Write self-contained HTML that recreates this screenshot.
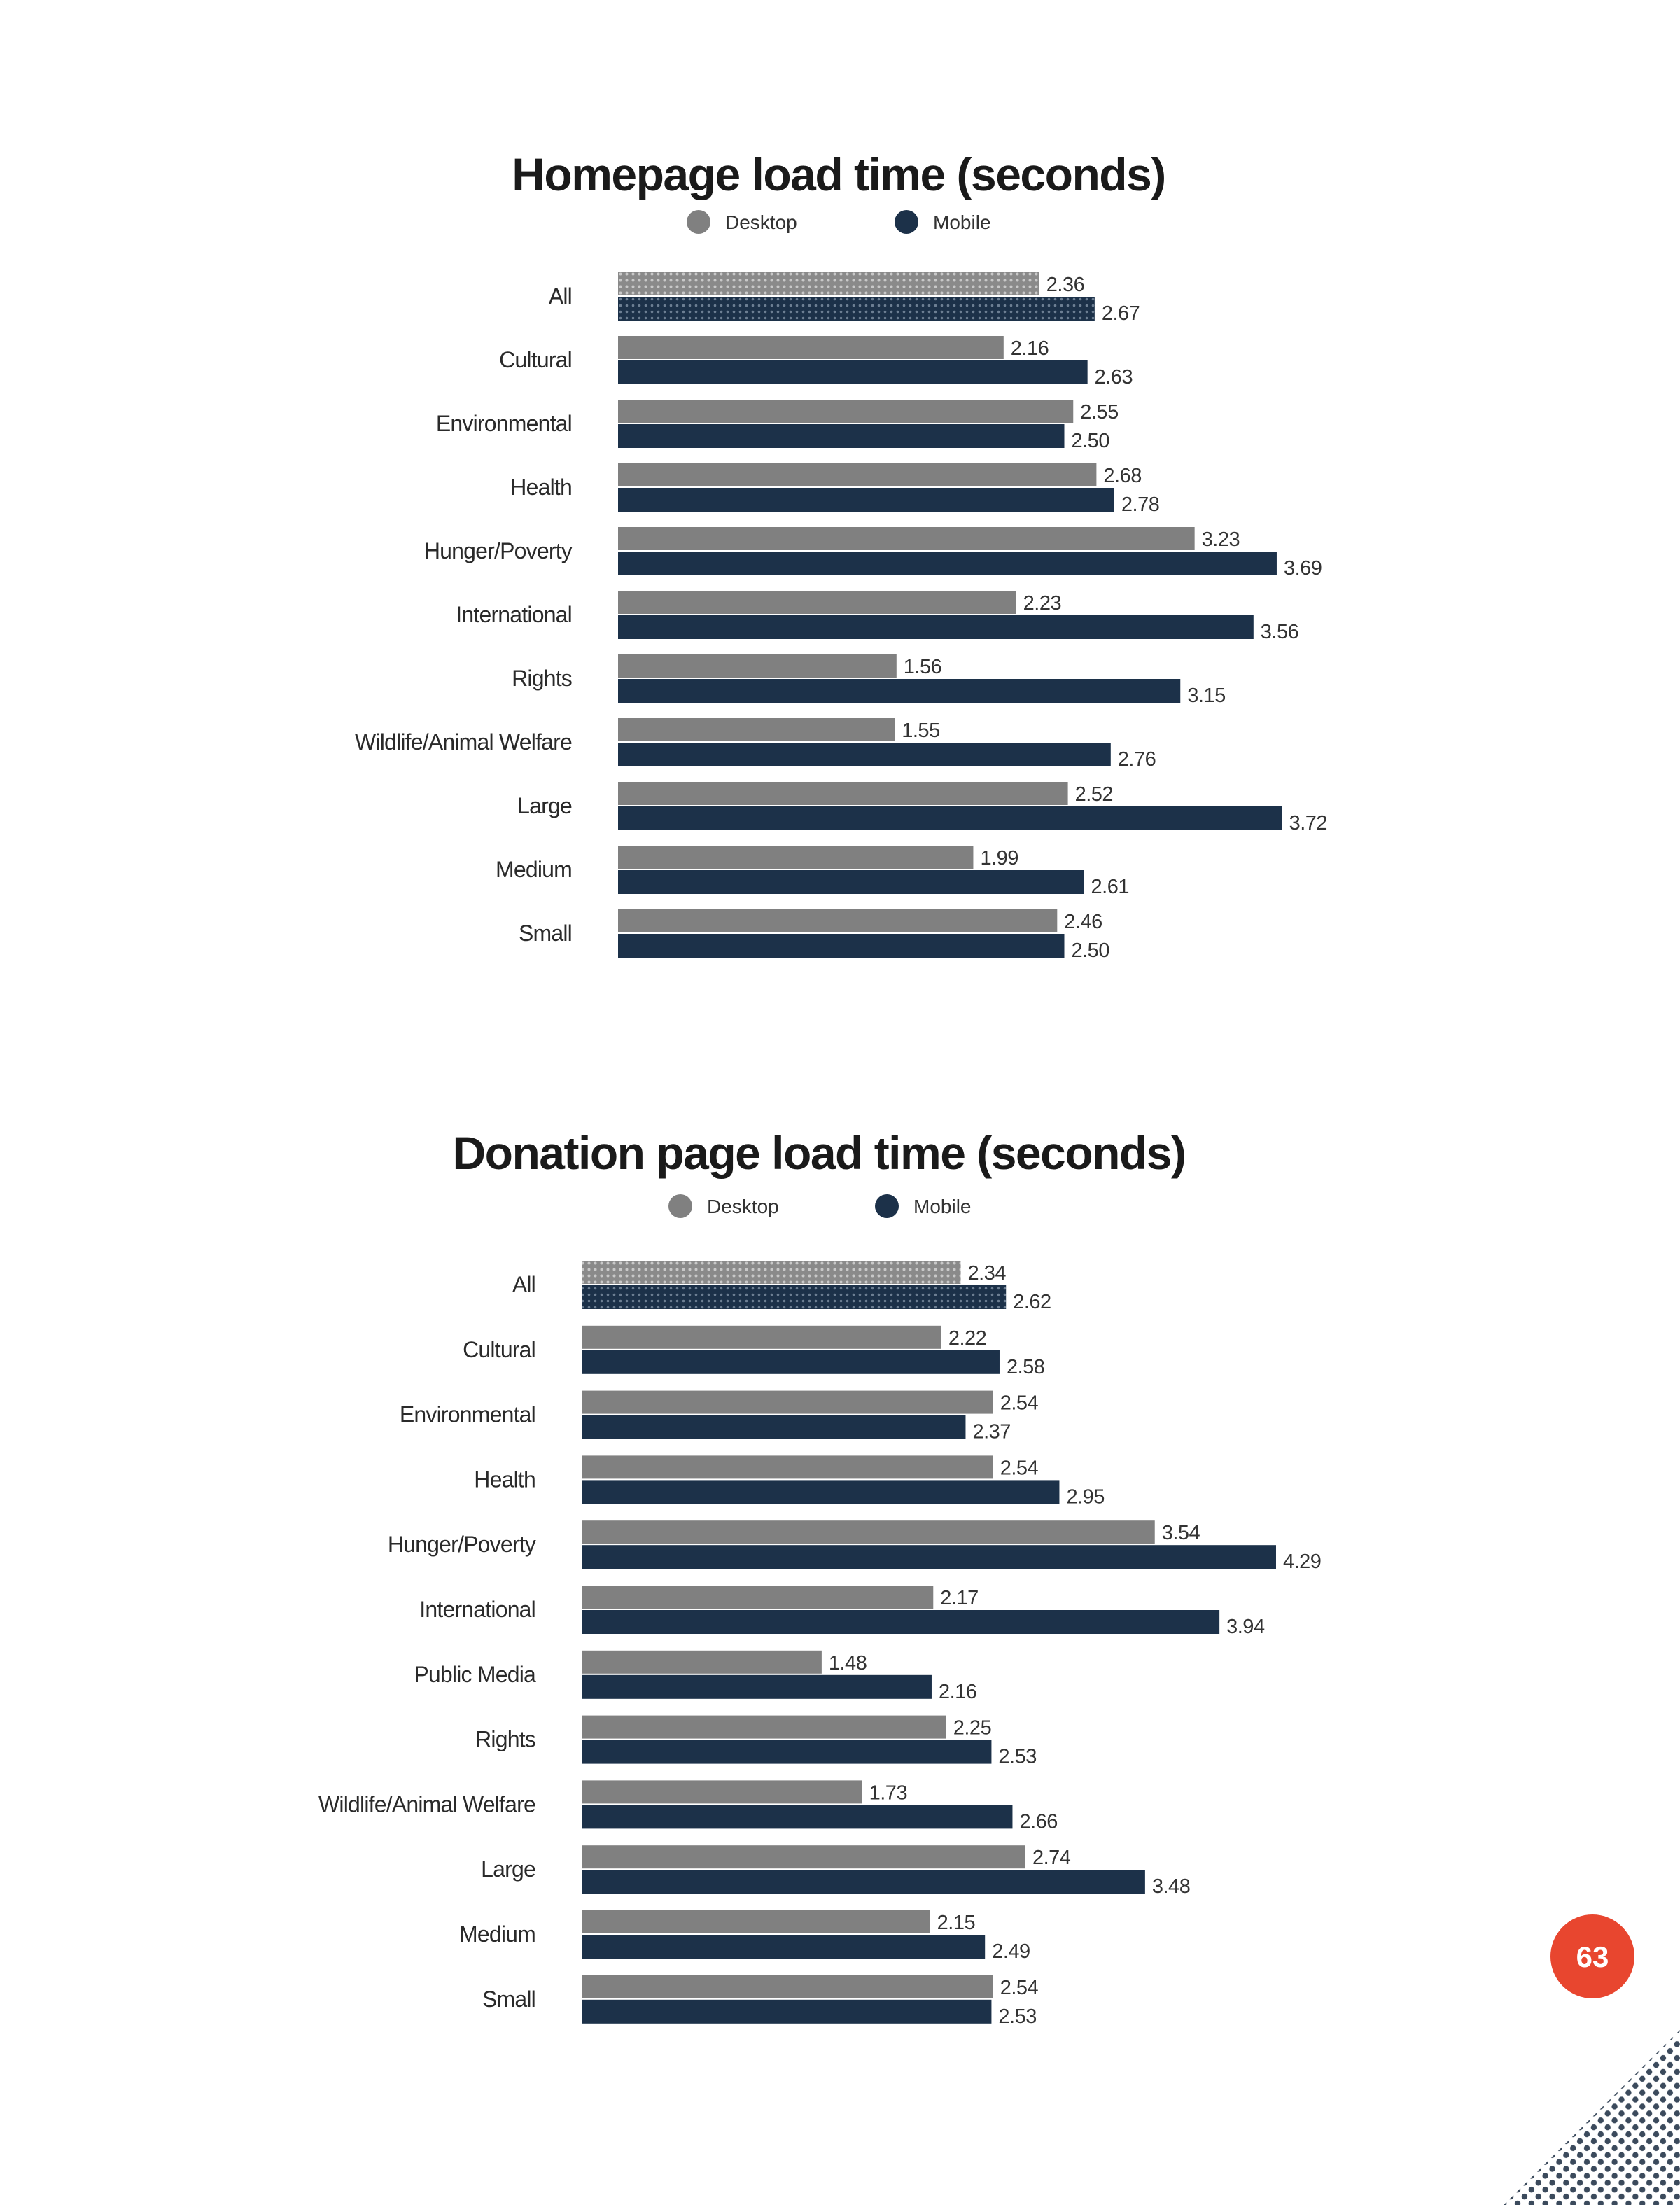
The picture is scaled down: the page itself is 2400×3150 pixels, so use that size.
<!DOCTYPE html>
<html><head><meta charset="utf-8"><style>
html,body{margin:0;padding:0;background:#fff;}
svg{display:block;}
text{font-family:"Liberation Sans",sans-serif;}
</style></head><body>
<svg id="page" width="2400" height="3150" viewBox="0 0 2400 3150" xmlns="http://www.w3.org/2000/svg">
<defs>
<pattern id="dotsG" width="9" height="9" patternUnits="userSpaceOnUse"><rect width="9" height="9" fill="#8a8a8a"/><circle cx="4.5" cy="4.5" r="2" fill="#c8c8c8"/></pattern>
<pattern id="dotsN" width="9" height="9" patternUnits="userSpaceOnUse"><rect width="9" height="9" fill="#1c3149"/><circle cx="4.5" cy="4.5" r="1.8" fill="#6d7f93"/></pattern>
<pattern id="corner" width="14" height="14" patternUnits="userSpaceOnUse" patternTransform="rotate(45)"><rect width="14" height="14" fill="#fff"/><circle cx="7" cy="7" r="4.2" fill="#3b4a5c"/></pattern>
</defs>
<g id="c1"></g>
<g id="c2"></g>
<polygon points="2148,3150 2400,2900 2400,3150" fill="url(#corner)"/>
<circle cx="2275" cy="2795" r="62" fill="#e8462f" stroke="#fff" stroke-width="4"/>
<text x="2275" y="2810" text-anchor="middle" font-size="42" font-weight="bold" fill="#fff">63</text>
</svg>
<script>
const cats1 = ["All","Cultural","Environmental","Health","Hunger/Poverty","International","Rights","Wildlife/Animal Welfare","Large","Medium","Small"];
const desk1 = [2.36,2.16,2.55,2.68,3.23,2.23,1.56,1.55,2.52,1.99,2.46];
const mob1 = [2.67,2.63,2.50,2.78,3.69,3.56,3.15,2.76,3.72,2.61,2.50];
const cats2 = ["All","Cultural","Environmental","Health","Hunger/Poverty","International","Public Media","Rights","Wildlife/Animal Welfare","Large","Medium","Small"];
const desk2 = [2.34,2.22,2.54,2.54,3.54,2.17,1.48,2.25,1.73,2.74,2.15,2.54];
const mob2 = [2.62,2.58,2.37,2.95,4.29,3.94,2.16,2.53,2.66,3.48,2.49,2.53];
const NS="http://www.w3.org/2000/svg";
function mk(parent,tag,attrs,txt){const e=document.createElementNS(NS,tag);for(const k in attrs)e.setAttribute(k,attrs[k]);if(txt!==undefined)e.textContent=txt;parent.appendChild(e);return e;}
function draw(g,cfg,cats,desk,mob){
  const x=v=>cfg.left+v*cfg.scale;
  const rowY=i=>cfg.top+i*cfg.step;
  let t=mk(g,'text',{x:cfg.titleX,y:cfg.titleY,'text-anchor':'middle','font-size':66,'font-weight':'bold',fill:'#1a1a1a','letter-spacing':'-1.5'},cfg.title);
  
  
  const lg=[[cfg.legD,'#808080','Desktop'],[cfg.legM,'#1c3149','Mobile']];
  lg.forEach(l=>{
    const c=mk(g,'circle',{cx:l[0],cy:cfg.legY,r:17,fill:l[1]});
    
    
    const tx=mk(g,'text',{x:l[0]+38,y:cfg.legY+10,'font-size':28,fill:'#333'},l[2]);
    
    
  });
  const bh=33;
  cats.forEach((c,i)=>{
    const y=rowY(i);
    const lab=mk(g,'text',{x:cfg.labX,y:y+bh+12,'text-anchor':'end','font-size':32,fill:'#2a2a2a','letter-spacing':'-0.8'},c);
    
    
    const rd=mk(g,'rect',{x:cfg.left,y:y,width:x(desk[i])-cfg.left,height:bh,fill:i===0?'url(#dotsG)':'#808080'});
    
    
    const rm=mk(g,'rect',{x:cfg.left,y:y+bh+2,width:x(mob[i])-cfg.left,height:bh+1,fill:i===0?'url(#dotsN)':'#1c3149'});
    
    
    const vd=mk(g,'text',{x:x(desk[i])+10,y:y+bh-6,'font-size':29,fill:'#333','letter-spacing':'-0.5'},desk[i].toFixed(2));
    
    
    const vm=mk(g,'text',{x:x(mob[i])+10,y:y+2*bh+2,'font-size':29,fill:'#333','letter-spacing':'-0.5'},mob[i].toFixed(2));
    
    
  });
}
draw(document.getElementById('c1'),{title:'Homepage load time (seconds)',titleX:1198,titleY:272,legY:317,legD:998,legM:1295,left:883,scale:255,top:389,step:91,labX:817},cats1,desk1,mob1);
draw(document.getElementById('c2'),{title:'Donation page load time (seconds)',titleX:1170,titleY:1670,legY:1723,legD:972,legM:1267,left:832,scale:231,top:1801,step:92.8,labX:765},cats2,desk2,mob2);
</script>
</body></html>
